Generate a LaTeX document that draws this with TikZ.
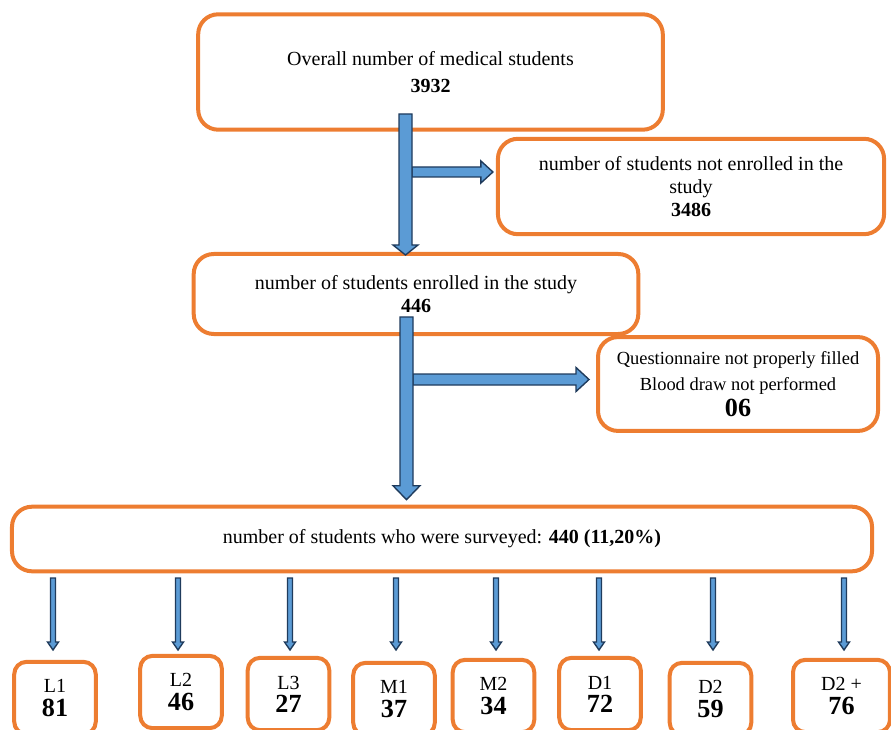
\documentclass[tikz,border=0pt]{standalone}
\usepackage{fontspec}
\setmainfont{Liberation Serif}
\usepackage{xcolor}
\usetikzlibrary{calc,positioning}
\definecolor{boxorange}{HTML}{ED7D31}
\definecolor{arrowblue}{HTML}{5B9BD5}
\definecolor{arrownavy}{HTML}{1F3B5C}
% block arrows: #1 start, #2 tip, #3 half shaft, #4 half head, #5 head length
\newcommand{\vblock}[5]{\draw[block] ($(#1)+(-#3,0)$) -- ($(#2)+(-#3,-#5)$) -- ($(#2)+(-#4,-#5)$) -- (#2) -- ($(#2)+(#4,-#5)$) -- ($(#2)+(#3,-#5)$) -- ($(#1)+(#3,0)$) -- cycle;}
\newcommand{\hblock}[5]{\draw[block] ($(#1)+(0,-#3)$) -- ($(#2)+(-#5,-#3)$) -- ($(#2)+(-#5,-#4)$) -- (#2) -- ($(#2)+(-#5,#4)$) -- ($(#2)+(-#5,#3)$) -- ($(#1)+(0,#3)$) -- cycle;}
\begin{document}
\begin{tikzpicture}[
  x=0.65pt, y=-0.65pt,
  font=\fontsize{13}{15}\selectfont,
  frame/.style={draw=boxorange, line width=2.6pt, rounded corners=13pt, align=center, inner sep=2pt},
  yearbox/.style={draw=boxorange, line width=2.6pt, rounded corners=8pt, align=center, minimum width=53pt, minimum height=47pt, inner sep=1pt},
  block/.style={fill=arrowblue, draw=arrownavy, line width=0.9pt, line join=miter}
]
\useasboundingbox (0,0) rectangle (891,730);

\node[frame, minimum width=302pt, minimum height=75pt] (overall) at (430.5,72)
  {Overall number of medical students\\[2pt]\textbf{3932}};
\node[frame, minimum width=251pt, minimum height=62pt] (notenrolled) at (691,186.5)
  {number of students not enrolled in the\\study\\\textbf{3486}};
\node[frame, minimum width=289pt, minimum height=52pt] (enrolled) at (416,294)
  {number of students enrolled in the study\\\textbf{446}};
\node[frame, minimum width=182pt, minimum height=61pt, font=\fontsize{12}{14}\selectfont] (excluded) at (738,384)
  {Questionnaire not properly filled\\[3pt]Blood draw not performed\\[3pt]{\fontsize{17}{17}\selectfont\textbf{06}}};
\node[frame, minimum width=559pt, minimum height=42pt] (surveyed) at (442,539)
  {number of students who were surveyed: \textbf{440 (11,20\%)}};

\node[yearbox] (L1) at (55,698) {L1\\{\bfseries\fontsize{17}{17}\selectfont 81}};
\node[yearbox] (L2) at (181,692) {L2\\{\bfseries\fontsize{17}{17}\selectfont 46}};
\node[yearbox] (L3) at (288.5,694) {L3\\{\bfseries\fontsize{17}{17}\selectfont 27}};
\node[yearbox] (M1) at (394,699) {M1\\{\bfseries\fontsize{17}{17}\selectfont 37}};
\node[yearbox] (M2) at (493.5,696) {M2\\{\bfseries\fontsize{17}{17}\selectfont 34}};
\node[yearbox] (D1) at (600,694) {D1\\{\bfseries\fontsize{17}{17}\selectfont 72}};
\node[yearbox] (D2) at (710.5,699) {D2\\{\bfseries\fontsize{17}{17}\selectfont 59}};
\node[yearbox, minimum width=63pt] (D2p) at (841.5,696) {D2 +\\{\bfseries\fontsize{17}{17}\selectfont 76}};

% main flow
\coordinate (fork1) at (405.5,114);
\coordinate (tip1) at ($(fork1 |- enrolled.north)+(0,3)$);
\coordinate (branch1) at (412,172);
\coordinate (tipb1) at ($(branch1 -| notenrolled.west)+(-3,0)$);
\hblock{branch1}{tipb1}{5}{11}{12}
\vblock{fork1}{tip1}{6.5}{12.5}{10}

\coordinate (fork2) at (406.5,317);
\coordinate (tip2) at ($(fork2 |- surveyed.north)+(0,-5)$);
\coordinate (branch2) at (413,379.5);
\coordinate (tipb2) at ($(branch2 -| excluded.west)+(-7,0)$);
\hblock{branch2}{tipb2}{5.5}{12}{13}
\vblock{fork2}{tip2}{6.5}{13.5}{14}

% years
\foreach \yr/\xa in {L1/53, L2/178, L3/290, M1/396, M2/496, D1/599, D2/713, D2p/844} {
  \coordinate (s\yr) at (\xa,578);
  \coordinate (t\yr) at (\xa,650);
  \vblock{s\yr}{t\yr}{2.5}{5.5}{8}
}
\end{tikzpicture}
\end{document}
